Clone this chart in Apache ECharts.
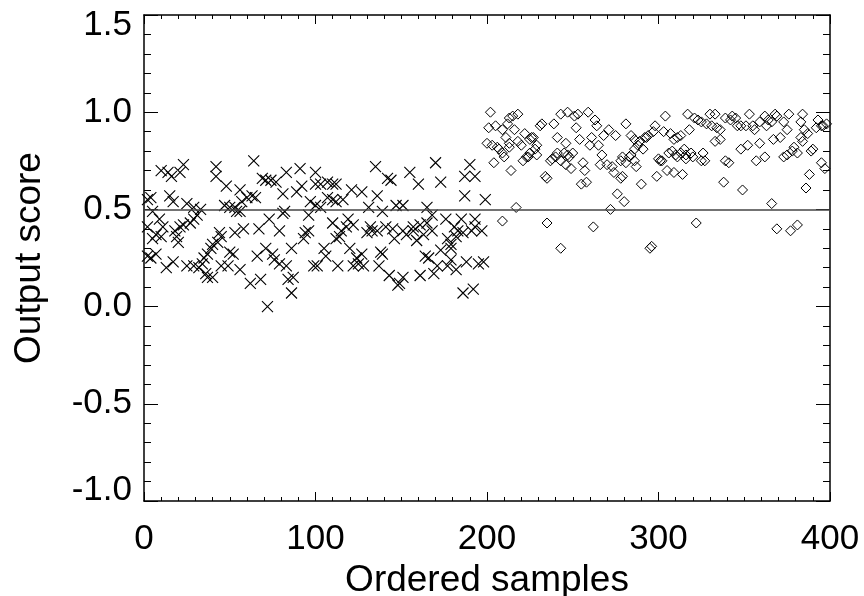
<!DOCTYPE html>
<html>
<head>
<meta charset="utf-8">
<script src="https://cdn.jsdelivr.net/npm/echarts@6/dist/echarts.min.js"></script>
<style>html,body{margin:0;padding:0;background:#fff}#c{width:864px;height:596px}</style>
</head>
<body>
<div id="c"></div>
<script>
// Crosses: samples 0-199 (sample index, output score)
const crossS = [10,14,16,21,23,42,42,48,64,69,71,74,77,83,91,100,100,92,89,81,4,2,15,17,25,29,33,47,50,53,56,57,60,63,65,56,54,82,97,100,96,5,2,9,11,7,5,10,18,21,23,27,29,31,19,20,2,4,7,13,17,25,29,32,34,35,37,39,40,43,45,44,37,40,36,50,52,45,49,56,53,58,67,73,79,81,62,68,66,71,75,76,79,83,86,84,87,86,72,94,96,93,99,101,
135,142,144,155,160,170,173,187,190,193,187,103,107,110,112,121,127,136,103,107,110,112,116,131,139,147,151,165,168,176,185,193,110,115,119,122,114,112,118,132,133,136,130,141,145,146,151,153,157,159,157,163,161,168,165,177,181,183,186,179,179,182,191,193,105,106,113,120,122,125,127,128,124,137,139,138,143,149,151,148,161,164,166,169,171,173,177,179,182,188,195,186,192,199,198,197];
const crossV = [0.70,0.69,0.67,0.69,0.73,0.72,0.67,0.62,0.75,0.66,0.65,0.65,0.64,0.69,0.71,0.69,0.63,0.62,0.59,0.58,0.56,0.55,0.57,0.54,0.53,0.51,0.50,0.52,0.51,0.51,0.60,0.54,0.56,0.57,0.56,0.49,0.49,0.49,0.54,0.52,0.47,0.49,0.41,0.45,0.41,0.37,0.35,0.36,0.39,0.41,0.42,0.43,0.45,0.47,0.36,0.33,0.26,0.25,0.27,0.20,0.23,0.21,0.21,0.20,0.22,0.25,0.27,0.30,0.32,0.33,0.36,0.38,0.15,0.15,0.17,0.28,0.27,0.21,0.21,0.19,0.38,0.40,0.40,0.45,0.39,0.48,0.12,0.14,0.26,0.30,0.27,0.24,0.22,0.21,0.30,0.14,0.15,0.07,0.00,0.38,0.39,0.35,0.21,0.21,
0.72,0.66,0.65,0.69,0.63,0.74,0.64,0.67,0.73,0.67,0.57,0.63,0.64,0.63,0.63,0.60,0.59,0.57,0.51,0.56,0.55,0.54,0.55,0.51,0.49,0.52,0.52,0.51,0.47,0.45,0.45,0.45,0.43,0.39,0.45,0.42,0.36,0.35,0.41,0.41,0.39,0.39,0.38,0.41,0.40,0.35,0.39,0.37,0.39,0.34,0.41,0.37,0.42,0.39,0.43,0.35,0.41,0.39,0.38,0.32,0.30,0.36,0.39,0.41,0.30,0.26,0.21,0.30,0.21,0.22,0.27,0.21,0.25,0.21,0.27,0.28,0.16,0.12,0.15,0.11,0.16,0.26,0.25,0.17,0.21,0.29,0.21,0.24,0.19,0.23,0.22,0.07,0.09,0.55,0.23,0.39];
// Diamonds: samples 200-399
const diamondS = [202,201,200,204,205,209,212,213,215,218,216,211,213,213,203,206,207,209,210,214,218,220,221,223,225,217,222,226,227,225,229,232,231,228,229,224,234,235,238,240,237,241,243,239,243,241,235,243,246,245,247,248,250,246,249,247,251,253,252,254,256,257,255,258,259,261,260,263,264,265,262,268,271,275,267,266,270,273,274,272,278,279,281,276,278,279,280,283,286,287,290,281,284,286,288,289,291,286,284,292,293,294,209,295,296,
297,298,299,300,301,302,305,306,308,309,310,311,314,313,315,316,316,319,320,304,303,307,309,311,313,318,317,321,323,325,328,330,333,331,334,336,333,336,322,326,327,325,339,341,338,339,343,342,345,346,348,349,348,352,353,351,355,356,359,362,364,363,366,368,369,357,359,362,366,367,371,373,375,376,373,375,378,379,381,369,377,381,383,384,383,385,387,384,390,389,388,386,393,395,398,392,396,395,397];
const diamondV = [1.00,0.92,0.84,0.74,0.93,0.91,0.94,0.97,0.98,0.99,0.91,0.87,0.82,0.84,0.83,0.82,0.81,0.79,0.77,0.70,0.85,0.83,0.75,0.77,0.79,0.51,0.89,0.87,0.87,0.86,0.83,0.94,0.93,0.81,0.78,0.77,0.67,0.66,0.76,0.77,0.75,0.79,0.75,0.94,0.99,0.87,0.43,0.30,0.84,0.79,0.78,0.77,0.79,0.73,0.71,1.00,0.98,0.99,0.92,0.86,0.74,0.70,0.63,0.64,1.00,0.87,0.83,0.96,0.93,0.83,0.41,0.88,0.91,0.88,0.78,0.73,0.73,0.72,0.69,0.50,0.75,0.77,0.74,0.58,0.66,0.67,0.54,0.77,0.75,0.72,0.63,0.94,0.88,0.86,0.83,0.85,0.81,0.81,0.78,0.87,0.87,0.88,0.44,0.30,0.31,
0.90,0.93,0.67,0.76,0.75,0.75,0.70,0.79,0.80,0.69,0.78,0.77,0.68,0.79,0.81,0.76,0.78,0.79,0.77,0.98,0.90,0.89,0.86,0.87,0.88,0.91,0.99,0.97,0.96,0.95,0.94,0.99,0.99,0.93,0.92,0.91,0.85,0.86,0.43,0.79,0.75,0.75,0.75,0.74,0.64,0.97,0.98,0.96,0.97,0.93,0.93,0.60,0.81,0.83,0.99,0.93,0.93,0.91,0.95,0.98,0.96,0.93,0.95,0.99,0.98,0.75,0.84,0.77,0.53,0.86,0.87,0.95,0.91,0.99,0.77,0.78,0.80,0.82,0.79,0.40,0.39,0.42,0.87,0.99,0.95,0.91,0.89,0.85,0.81,0.80,0.68,0.61,0.96,0.93,0.94,0.92,0.93,0.74,0.71];
const thresholdValue = [0.5];
const xTitle = 'Ordered samples';
const yTitle = 'Output score';

const FONT = "'Liberation Sans', Arial, Helvetica, sans-serif";
const crossData = crossS.map((s, i) => [s, crossV[i]]);
const diamondData = diamondS.map((s, i) => [s, diamondV[i]]);

const chart = echarts.init(document.getElementById('c'), null, {renderer: 'canvas'});

function xAx(pos, showLabel) {
  return {
    type: 'value', position: pos, min: 0, max: 400, interval: 100,
    name: showLabel ? xTitle : '', nameLocation: 'middle', nameGap: 57,
    nameTextStyle: {fontFamily: FONT, fontSize: 37, color: '#000'},
    axisLine: {show: true, onZero: false, lineStyle: {color: '#000', width: 1.5}},
    axisTick: {show: true, inside: true, length: 9, lineStyle: {color: '#000', width: 1}},
    minorTick: {show: true, splitNumber: 10, length: 4, lineStyle: {color: '#000', width: 1}},
    axisLabel: {show: showLabel, margin: 21, fontFamily: FONT, fontSize: 35, color: '#000'},
    splitLine: {show: false}, minorSplitLine: {show: false}
  };
}
function yAx(pos, showLabel) {
  return {
    type: 'value', position: pos, min: -1, max: 1.5, interval: 0.5,
    name: showLabel ? yTitle : '', nameLocation: 'middle', nameGap: 96, nameRotate: 90,
    nameTextStyle: {fontFamily: FONT, fontSize: 37, color: '#000'},
    axisLine: {show: true, onZero: false, lineStyle: {color: '#000', width: 1.5}},
    axisTick: {show: true, inside: true, length: 14, lineStyle: {color: '#000', width: 1}},
    minorTick: {show: true, splitNumber: 5, length: 7, lineStyle: {color: '#000', width: 1}},
    axisLabel: {
      show: showLabel, margin: 12, fontFamily: FONT, fontSize: 35, color: '#000',
      formatter: function (v) {
        const t = v.toFixed(1);
        if (v >= 1.5) return '{t|' + t + '}';
        if (v <= -1) return '{b|' + t + '}';
        return t;
      },
      rich: {
        t: {fontFamily: FONT, fontSize: 35, color: '#000', padding: [20, 0, 0, 0]},
        b: {fontFamily: FONT, fontSize: 35, color: '#000', padding: [0, 0, 22, 0]}
      }
    },
    splitLine: {show: false}, minorSplitLine: {show: false}
  };
}

chart.setOption({
  animation: false,
  backgroundColor: '#fff',
  grid: {left: 144, right: 34, top: 15, bottom: 95, containLabel: false, outerBoundsMode: 'none'},
  xAxis: [xAx('bottom', true), xAx('top', false)],
  yAxis: [yAx('left', true), yAx('right', false)],
  series: [
    {
      type: 'scatter', xAxisIndex: 0, yAxisIndex: 0, data: crossData,
      symbol: 'path://M0,0L10,10M10,0L0,10', symbolSize: 11,
      itemStyle: {color: 'none', borderColor: '#000', borderWidth: 1.1, opacity: 1},
      emphasis: {disabled: true},
      markLine: {
        silent: true, symbol: 'none', label: {show: false},
        lineStyle: {color: '#444', width: 1.5, type: 'solid'},
        data: thresholdValue.map(v => ({yAxis: v}))
      }
    },
    {
      type: 'scatter', xAxisIndex: 0, yAxisIndex: 0, data: diamondData,
      symbol: 'diamond', symbolSize: [10, 10],
      itemStyle: {color: 'none', borderColor: '#000', borderWidth: 1, opacity: 1},
      emphasis: {disabled: true}
    }
  ]
});
</script>
</body>
</html>
